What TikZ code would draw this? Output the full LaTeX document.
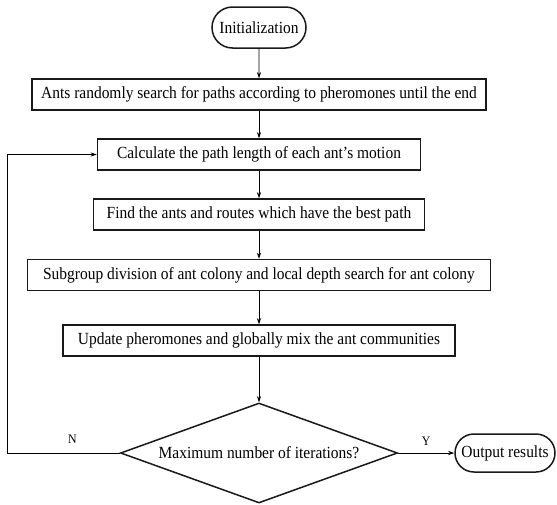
\documentclass[tikz,border=0pt]{standalone}
\usepackage{fontspec}
\setmainfont{Liberation Serif}[FakeStretch=0.91]
\usetikzlibrary{arrows.meta,shapes.geometric,shapes.misc}

\begin{document}
\begin{tikzpicture}[x=1pt, y=-1pt,
	box/.style={draw=black!90, line width=1.5pt, minimum height=31pt, inner sep=0pt, font=\fontsize{17}{19}\selectfont},
	term/.style={box, rounded rectangle},
	flow/.style={-{Stealth[length=6pt,width=4pt]}, line width=0.7pt},
	lbl/.style={font=\fontsize{13}{15}\selectfont}]
\useasboundingbox (0,0) rectangle (557,504);
% Start
\node[term, minimum width=94pt, minimum height=41pt] (init) at (259,27.5) {Initialization};
% Schritte der Schleife
\node[box, minimum width=454pt] (search) at (259,94.5) {Ants randomly search for paths according to pheromones until the end};
\node[box, minimum width=323pt] (calc) at (259,154.5) {Calculate the path length of each ant's motion};
\node[box, minimum width=331pt] (best) at (259,214.5) {Find the ants and routes which have the best path};
\node[box, minimum width=463pt] (sub) at (259,275) {Subgroup division of ant colony and local depth search for ant colony};
\node[box, minimum width=392pt] (upd) at (259,340.5) {Update pheromones and globally mix the ant communities};
% Abfrage und Ende
\node[box, diamond, aspect=2.7, minimum width=277pt, minimum height=100pt] (iter) at (259,453) {Maximum number of iterations?};
\node[term, minimum width=100pt, minimum height=38pt] (out) at (505,453) {Output results};
\coordinate (back) at (7,453);
% Pfeile
\draw[flow] (init) -- (search);
\draw[flow] (search) -- (calc);
\draw[flow] (calc) -- (best);
\draw[flow] (best) -- (sub);
\draw[flow] (sub) -- (upd);
\draw[flow] (upd) -- (iter);
\draw[flow] (iter.east) -- node[lbl, above=4pt] {Y} (out.west);
\draw[flow] (iter.west) -- node[lbl, above=6pt, pos=0.42] {N} (back) |- (calc.west);
\end{tikzpicture}
\end{document}
